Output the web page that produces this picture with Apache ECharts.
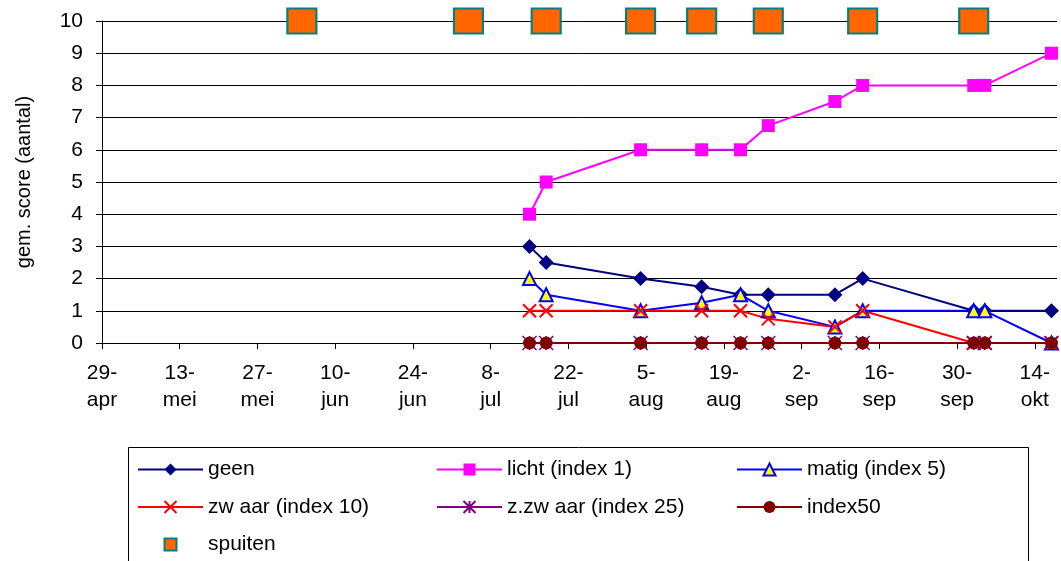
<!DOCTYPE html>
<html>
<head>
<meta charset="utf-8">
<title>gem. score (aantal)</title>
<script src="https://cdn.jsdelivr.net/npm/echarts@6/dist/echarts.min.js"></script>
<style>
  html, body { margin: 0; padding: 0; background: #ffffff; }
  #chart { width: 1061px; height: 561px; }
</style>
</head>
<body>
<div id="chart"></div>
<script>
// Observation dates and average scores per damage class
const axisStart = '2007-04-29';
const axisEnd = '2007-10-18';
const obsDates = ['2007-07-15', '2007-07-18', '2007-08-04', '2007-08-15', '2007-08-22',
                  '2007-08-27', '2007-09-08', '2007-09-13', '2007-10-03', '2007-10-05', '2007-10-17'];
const geen    = [3, 2.5, 2, 1.75, 1.5, 1.5, 1.5, 2, 1, 1, 1];
const licht   = [4, 5, 6, 6, 6, 6.75, 7.5, 8, 8, 8, 9];
const matig   = [2, 1.5, 1, 1.25, 1.5, 1, 0.5, 1, 1, 1, 0];
const zwaar   = [1, 1, 1, 1, 1, 0.75, 0.5, 1, 0, 0, 0];
const zzwaar  = [0, 0, 0, 0, 0, 0, 0, 0, 0, 0, 0];
const index50 = [0, 0, 0, 0, 0, 0, 0, 0, 0, 0, 0];

// Spray dates (drawn at the top of the scale)
const sprayDates = ['2007-06-04', '2007-07-04', '2007-07-18', '2007-08-04',
                    '2007-08-15', '2007-08-27', '2007-09-13', '2007-10-03'];
const sprayLevel = 10;

// Date axis ticks, every two weeks
const tickDates = ['2007-04-29', '2007-05-13', '2007-05-27', '2007-06-10', '2007-06-24',
                   '2007-07-08', '2007-07-22', '2007-08-05', '2007-08-19', '2007-09-02',
                   '2007-09-16', '2007-09-30', '2007-10-14'];
const tickLabels = ['29-\napr', '13-\nmei', '27-\nmei', '10-\njun', '24-\njun', '8-\njul',
                    '22-\njul', '5-\naug', '19-\naug', '2-\nsep', '16-\nsep', '30-\nsep', '14-\nokt'];

const DAY = 86400000;
function dayIndex(s) {
  return Math.round((Date.parse(s + 'T00:00:00Z') - Date.parse(axisStart + 'T00:00:00Z')) / DAY);
}
const tickDays = tickDates.map(dayIndex);
const maxDay = dayIndex(axisEnd);
function pairs(dates, vals) {
  return dates.map((d, i) => [dayIndex(d), vals[i]]);
}

const FONT = '"Liberation Sans", Arial, sans-serif';
const crossPath = 'path://M0,0L12,12M12,0L0,12';
const starPath = 'path://M6,0L6,12M0,0L12,12M12,0L0,12';

function lineSeries(name, vals, color, symbol, size, extra) {
  return Object.assign({
    name: name,
    type: 'line',
    data: pairs(obsDates, vals),
    symbol: symbol,
    symbolSize: size,
    showAllSymbol: true,
    clip: false,
    lineStyle: { color: color, width: 2 },
    itemStyle: { color: color },
    emphasis: { disabled: true }
  }, extra || {});
}

const series = [
  lineSeries('geen', geen, '#000080', 'diamond', 15),
  lineSeries('licht (index 1)', licht, '#FF00FF', 'rect', 13),
  lineSeries('matig (index 5)', matig, '#0000FF', 'triangle', 13, {
    itemStyle: { color: '#FFFF00', borderColor: '#0000FF', borderWidth: 2 }
  }),
  lineSeries('zw aar (index 10)', zwaar, '#FF0000', crossPath, 13, {
    itemStyle: { color: '#FF0000', borderColor: '#FF0000', borderWidth: 2 }
  }),
  lineSeries('z.zw aar (index 25)', zzwaar, '#800080', starPath, 14, {
    itemStyle: { color: '#800080', borderColor: '#800080', borderWidth: 1.5 }
  }),
  lineSeries('index50', index50, '#800000', 'circle', 13),
  {
    name: 'spuiten',
    type: 'line',
    data: sprayDates.map(d => [dayIndex(d), sprayLevel]),
    symbol: 'rect',
    symbolSize: [29, 25],
    clip: false,
    lineStyle: { width: 0, color: '#008080' },
    itemStyle: { color: '#FF6600', borderColor: '#008080', borderWidth: 2 },
    emphasis: { disabled: true }
  }
];

const legendBase = {
  orient: 'vertical',
  top: 459,
  padding: 0,
  itemWidth: 65,
  itemHeight: 15,
  itemGap: 16.5,
  selectedMode: false,
  textStyle: { fontFamily: FONT, fontSize: 21, lineHeight: 20, color: '#000000' }
};

const chart = echarts.init(document.getElementById('chart'), null, { renderer: 'canvas' });
chart.setOption({
  animation: false,
  backgroundColor: '#ffffff',
  textStyle: { fontFamily: FONT },
  grid: { left: 102, right: 4, top: 21, bottom: 218, containLabel: false },
  xAxis: {
    type: 'value',
    min: 0,
    max: maxDay,
    splitLine: { show: false },
    axisLine: { show: true, lineStyle: { color: '#000000', width: 1 } },
    axisTick: {
      show: true, length: 6, inside: false,
      customValues: tickDays,
      lineStyle: { color: '#000000', width: 1 }
    },
    axisLabel: {
      customValues: tickDays,
      margin: 17,
      fontFamily: FONT,
      fontSize: 21,
      lineHeight: 27,
      color: '#000000',
      formatter: function (v) {
        const i = tickDays.indexOf(v);
        return i >= 0 ? tickLabels[i] : '';
      }
    }
  },
  yAxis: {
    type: 'value',
    min: 0,
    max: 10,
    interval: 1,
    name: 'gem. score (aantal)',
    nameLocation: 'middle',
    nameGap: 68,
    nameTextStyle: { fontFamily: FONT, fontSize: 20, color: '#000000' },
    axisLine: { show: true, lineStyle: { color: '#000000', width: 1 } },
    axisTick: { show: true, length: 6, inside: false, lineStyle: { color: '#000000', width: 1 } },
    splitLine: { show: true, lineStyle: { color: '#000000', width: 1 } },
    axisLabel: { margin: 19, fontFamily: FONT, fontSize: 21, color: '#000000' }
  },
  legend: [
    Object.assign({}, legendBase, { left: 137, data: ['geen', 'zw aar (index 10)', 'spuiten'] }),
    Object.assign({}, legendBase, { left: 436, data: ['licht (index 1)', 'z.zw aar (index 25)'] }),
    Object.assign({}, legendBase, { left: 736, data: ['matig (index 5)', 'index50'] })
  ],
  graphic: [{
    type: 'rect',
    silent: true,
    z: -1,
    shape: { x: 128.5, y: 447.5, width: 900, height: 200 },
    style: { fill: 'none', stroke: '#000000', lineWidth: 1 }
  }],
  series: series
});
</script>
</body>
</html>
